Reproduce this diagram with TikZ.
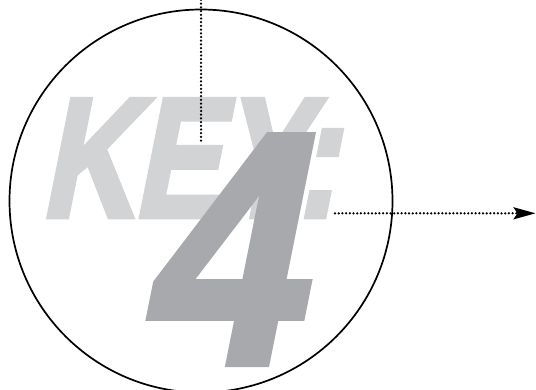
\documentclass[tikz,border=0pt]{standalone}
\usepackage{fontspec}
\usetikzlibrary{arrows.meta}
\newfontfamily\keyfont[FakeBold=3.5]{Liberation Sans Bold}
\newfontfamily\fourfont[FakeBold=2.5]{Liberation Sans Bold}
\definecolor{keygray}{HTML}{D1D3D4}
\definecolor{fourgray}{HTML}{A7A9AC}
\tikzset{
  dotline/.style={line width=2.5pt, line cap=round, dash pattern=on 0pt off 3.7pt, black},
  ring/.style={draw=black, line width=1.7pt},
  bigtext/.style={transform shape, anchor=base west, inner sep=0, text depth=0pt},
}
\begin{document}
\begin{tikzpicture}[x=1pt,y=1pt]
\useasboundingbox (0,0) rectangle (536,389);
% KEY:
\begin{scope}[shift={(40,172.5)}, xslant=0.2, xscale=0.755]
  \node[bigtext, text=keygray,
        font=\keyfont\fontsize{169.7}{170}\selectfont] (key) {KEY:};
\end{scope}
% 4
\begin{scope}[shift={(136,26)}, xslant=0.2, xscale=0.86]
  \node[bigtext, text=fourgray,
        font=\fourfont\fontsize{329.6}{330}\selectfont] (four) {4};
\end{scope}
% circle
\node[ring, circle, minimum size=383pt, inner sep=0] (c) at (201,188) {};
% connectors
\coordinate (topend) at (201,389);
\coordinate (vend) at (201,245);
\coordinate (hstart) at (335,175.7);
\coordinate (tip) at (535.5,175.7);
\draw[dotline] (topend) -- (vend);
\draw[dotline, -{Stealth[length=22pt, width=12pt, inset=4pt, line cap=butt]}] (hstart) -- (tip);
\end{tikzpicture}
\end{document}
